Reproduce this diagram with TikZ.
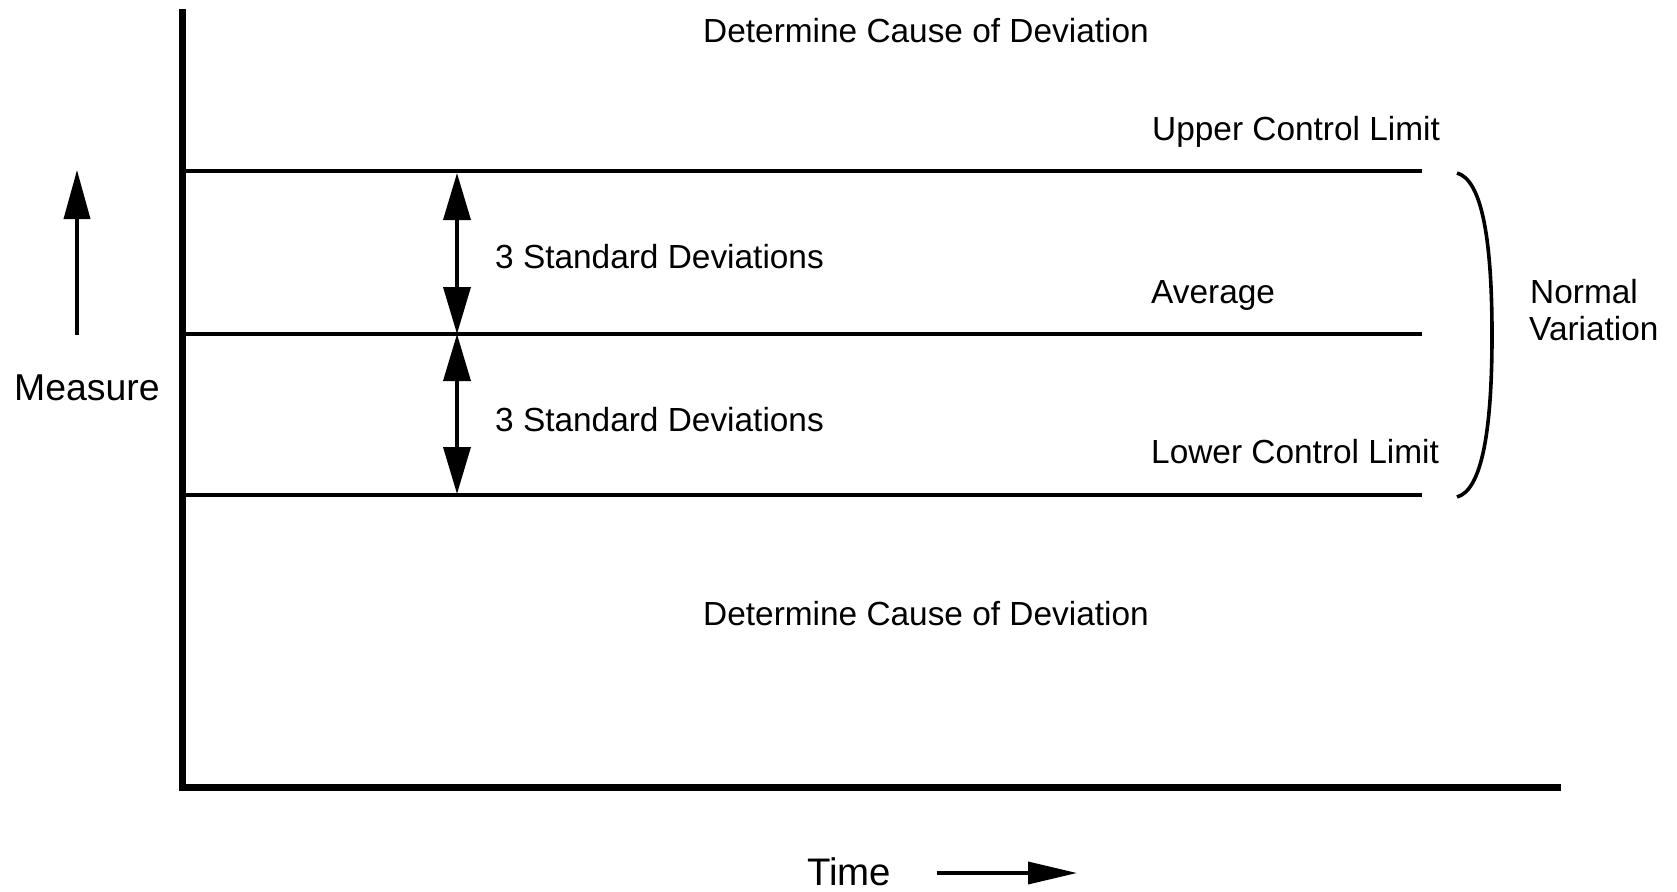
\documentclass[tikz,border=0pt]{standalone}
\usepackage{fontspec}
\setmainfont{Liberation Sans}
\usetikzlibrary{arrows.meta}
\begin{document}
\begin{tikzpicture}[x=1pt,y=-1pt,
  lbl/.style={inner sep=0pt,anchor=base west,font=\fontsize{33.4}{40}\selectfont},
  axislbl/.style={inner sep=0pt,anchor=base west,font=\fontsize{#1}{44}\selectfont},
  axisline/.style={line width=7pt},
  limitline/.style={line width=3.6pt},
  sdarrow/.style={line width=3.6pt,{Triangle[length=47pt,width=27pt]}-{Triangle[length=47pt,width=27pt]}},
  dirarrow/.style={line width=3.6pt,-{Triangle[length=49pt,width=26pt]}}]
\useasboundingbox (0,0) rectangle (1677,891);

% axes
\coordinate (ytop) at (182,9);
\coordinate (origin) at (182,787);
\coordinate (xend) at (1561,787);
\draw[axisline] (ytop) -- (origin) -- (xend);

% control lines
\coordinate (ucl0) at (182,171);  \coordinate (ucl1) at (1422,171);
\coordinate (avg0) at (182,334);  \coordinate (avg1) at (1422,334);
\coordinate (lcl0) at (182,495);  \coordinate (lcl1) at (1422,495);
\draw[limitline] (ucl0) -- (ucl1);
\draw[limitline] (avg0) -- (avg1);
\draw[limitline] (lcl0) -- (lcl1);

% standard deviation spans
\coordinate (sdA) at (457,173);
\coordinate (sdB) at (457,334);
\coordinate (sdC) at (457,494);
\draw[sdarrow] (sdA) -- (sdB);
\draw[sdarrow] (sdB) -- (sdC);

% measure and time directions
\coordinate (mbot) at (77,335);
\coordinate (mtop) at (77,170);
\draw[dirarrow] (mbot) -- (mtop);
\coordinate (tleft) at (937,873);
\coordinate (tright) at (1077,873);
\draw[dirarrow,-{Triangle[length=49pt,width=22pt]}] (tleft) -- (tright);

% brace for normal variation
\coordinate (brtop) at (1457,173);
\coordinate (brmid) at (1492,335);
\coordinate (brbot) at (1457,497);
\draw[line width=3.6pt] (brtop) .. controls (1482,180) and (1492,240) .. (brmid)
  .. controls (1492,430) and (1482,490) .. (brbot);

% labels
\node[lbl] (dtop) at (703,43) {Determine Cause of Deviation};
\node[lbl] (ucl) at (1152,140) {Upper Control Limit};
\node[lbl] (avg) at (1151,303) {Average};
\node[lbl] (lcl) at (1151,463) {Lower Control Limit};
\node[lbl] (sd1) at (495,268) {3 Standard Deviations};
\node[lbl] (sd2) at (495,431) {3 Standard Deviations};
\node[lbl] (dbot) at (703,625) {Determine Cause of Deviation};
\node[axislbl=37.4] (meas) at (14,400) {Measure};
\node[lbl] (norm) at (1530,303) {Normal};
\node[lbl] (var) at (1529,340) {Variation};
\node[axislbl=38.4] (time) at (807,885) {Time};
\end{tikzpicture}
\end{document}
